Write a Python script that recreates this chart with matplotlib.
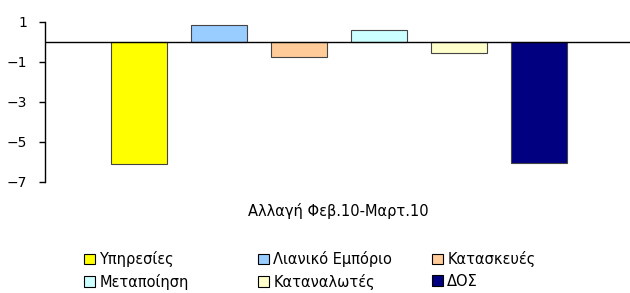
import matplotlib
matplotlib.use("Agg")
import matplotlib.pyplot as plt
from matplotlib.patches import Patch

categories = ["Υπηρεσίες", "Λιανικό Εμπόριο", "Κατασκευές",
              "Μεταποίηση", "Καταναλωτές", "ΔΟΣ"]
values = [-6.13, 0.83, -0.75, 0.58, -0.58, -6.08]
colors = ["#FFFF00", "#99CCFF", "#FFCC99", "#CCFFFF", "#FFFFCC", "#000080"]
yticks = [1, -1, -3, -5, -7]
xlabel = "Αλλαγή Φεβ.10-Μαρτ.10"

plt.rcParams["font.family"] = ["DejaVu Sans"]

fig = plt.figure(figsize=(6.3, 2.93), dpi=100)
ax = fig.add_axes([0.0714, 0.380, 0.9286, 0.546])

x = list(range(len(categories)))
ax.bar(x, values, width=0.7, color=colors, edgecolor="#444444", linewidth=0.8, zorder=2)
ax.axhline(0, color="black", linewidth=1, zorder=3)

ax.set_ylim(-7, 1)
ax.set_yticks(yticks)
ax.set_yticklabels([f"{v}".replace("-", "\u2212") for v in yticks], fontsize=10)
ax.set_xlim(-1.175, 6.1375)
ax.set_xticks([])
for s in ["top", "right", "bottom"]:
    ax.spines[s].set_visible(False)
ax.spines["left"].set_linewidth(1)
ax.tick_params(axis="y", length=4, width=1, pad=9)

fig.text(338 / 630, 1 - 211 / 293, xlabel, ha="center", va="center", fontsize=10.5)

# three legend columns, two rows each
col_x = [84 / 630, 258 / 630, 432 / 630]
for c in range(3):
    idx = [c, c + 3]
    handles = [Patch(facecolor=colors[i], edgecolor="black", linewidth=0.8) for i in idx]
    leg = fig.legend(handles, [categories[i] for i in idx], loc="upper left",
                     bbox_to_anchor=(col_x[c], 1 - 251 / 293), frameon=False,
                     fontsize=10.5, handlelength=0.75, handleheight=0.75,
                     handletextpad=0.3, labelspacing=0.45, borderpad=0,
                     borderaxespad=0)

fig.savefig("out.png", dpi=100)
